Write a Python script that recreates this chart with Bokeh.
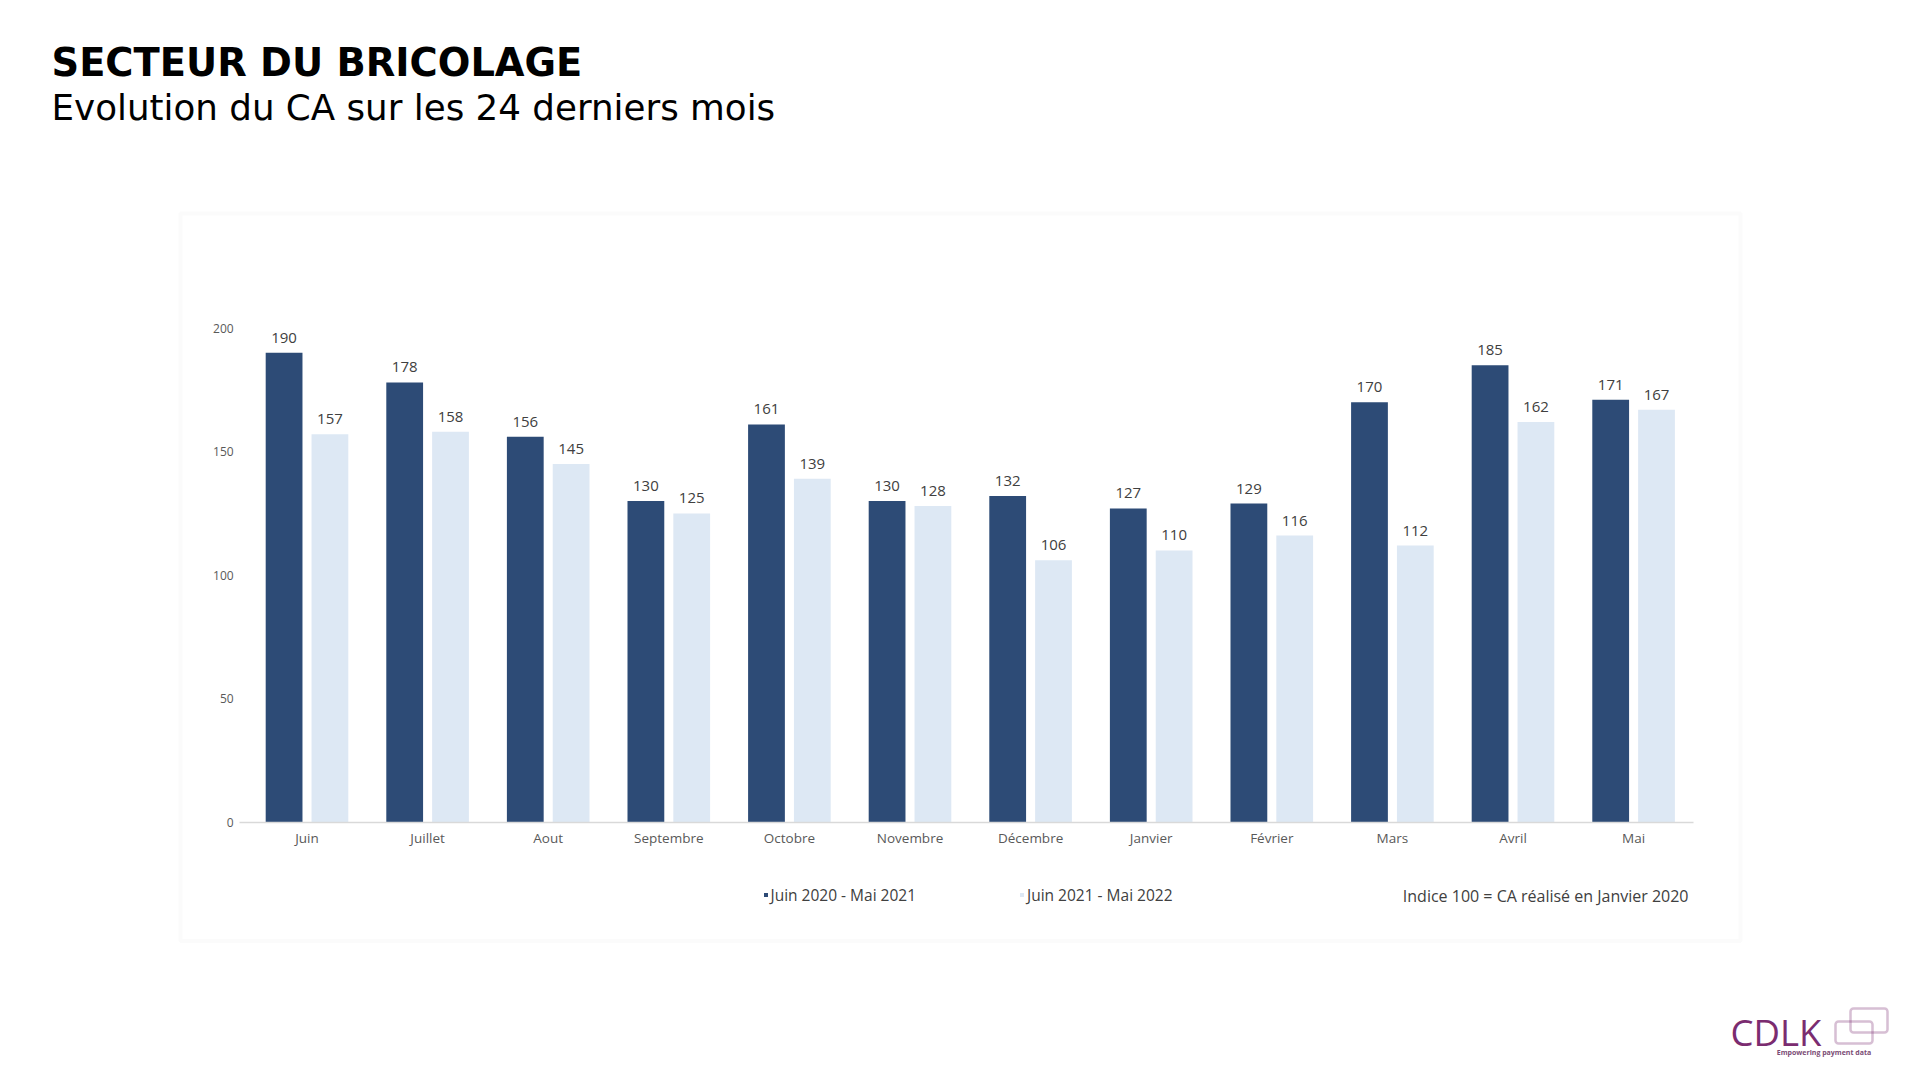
import numpy as np
from bokeh.plotting import figure
from bokeh.models import (ColumnDataSource, Range1d, Label, BoxAnnotation,
                          Legend, LegendItem, FixedTicker)
from bokeh.core.properties import value
from bokeh.embed import file_html
from bokeh.resources import INLINE

months = ["Juin", "Juillet", "Aout", "Septembre", "Octobre", "Novembre",
          "Décembre", "Janvier", "Février", "Mars", "Avril", "Mai"]
serie_2020_2021 = [190, 178, 156, 130, 161, 130, 132, 127, 129, 170, 185, 171]
serie_2021_2022 = [157, 158, 145, 125, 139, 128, 106, 110, 116, 112, 162, 167]
label_2020_2021 = "Juin 2020 - Mai 2021"
label_2021_2022 = "Juin 2021 - Mai 2022"
y_ticks = [0, 50, 100, 150, 200]

DARK = "#2D4B76"
LIGHT = "#DDE8F4"
TXT = "#404040"
FONT = "Open Sans"
TFONT = "DejaVu Sans"

W, H = 1900, 1060
# geometry of the bar area inside the canvas (pixels)
PX_PER_CAT = 120.6
BAR_LEFT = 246.2
ZERO_Y, PX_PER_UNIT = 821.7, 2.4705
n = len(months)
BAR_RIGHT = BAR_LEFT + n * PX_PER_CAT

centers = np.arange(n) + 0.5
OFF, BW = 0.19, 0.305
src = ColumnDataSource(dict(
    xa=centers - OFF, xb=centers + OFF, a=serie_2020_2021, b=serie_2021_2022,
    a_txt=[str(v) for v in serie_2020_2021], b_txt=[str(v) for v in serie_2021_2022],
))

x_range = Range1d(-BAR_LEFT / PX_PER_CAT, n + (W - BAR_RIGHT) / PX_PER_CAT)
y_range = Range1d(-(H - ZERO_Y) / PX_PER_UNIT, ZERO_Y / PX_PER_UNIT)

p = figure(width=W, height=H, x_range=x_range, y_range=y_range,
           output_backend="svg", toolbar_location=None)
p.min_border = 0
p.outline_line_color = None
p.background_fill_color = "white"
p.border_fill_color = "white"
p.xgrid.visible = False
p.ygrid.visible = False

ra = p.vbar(x="xa", top="a", width=BW, source=src, fill_color=DARK, line_color=None)
rb = p.vbar(x="xb", top="b", width=BW, source=src, fill_color=LIGHT, line_color=None)

for xc, yc, tc in [("xa", "a", "a_txt"), ("xb", "b", "b_txt")]:
    p.text(x=xc, y=yc, text=tc, source=src, text_align="center", text_baseline="bottom",
           y_offset=-10, text_font=value(FONT), text_font_size="15px", text_color=TXT)

# axes at fixed positions
p.yaxis.fixed_location = 0
p.yaxis.bounds = (0, 200)
p.yaxis.ticker = FixedTicker(ticks=y_ticks)
p.yaxis.axis_line_color = None
p.yaxis.major_tick_line_color = None
p.yaxis.minor_tick_line_color = None
p.yaxis.major_tick_out = 0
p.yaxis.major_tick_in = 0
p.yaxis.major_label_standoff = 13
p.yaxis.major_label_text_font = FONT
p.yaxis.major_label_text_font_size = "12px"
p.yaxis.major_label_text_color = "#595959"

p.xaxis.fixed_location = 0
p.xaxis.bounds = (-0.06, n)
p.xaxis.ticker = FixedTicker(ticks=list(centers))
p.xaxis.major_label_overrides = {float(c): m for c, m in zip(centers, months)}
p.xaxis.axis_line_color = "#D9D9D9"
p.xaxis.axis_line_width = 1.5
p.xaxis.major_tick_line_color = None
p.xaxis.minor_tick_line_color = None
p.xaxis.major_tick_out = 0
p.xaxis.major_tick_in = 0
p.xaxis.major_label_standoff = 7
p.xaxis.major_label_text_font = FONT
p.xaxis.major_label_text_font_size = "13.5px"
p.xaxis.major_label_text_color = "#595959"

# page position (from top-left) -> screen coords (origin at bottom-left of the canvas)
def sx(X):
    return X

def sy(Y):
    return H - Y

# outer box of the chart
p.add_layout(BoxAnnotation(left=sx(180), right=sx(1740), top=sy(213), bottom=sy(940.5),
                           left_units="screen", right_units="screen",
                           top_units="screen", bottom_units="screen",
                           fill_color=None, line_color="#F1F1F1", line_width=4,
                           level="underlay"))

# titles
p.add_layout(Label(x=sx(51), y=sy(61.6), x_units="screen", y_units="screen",
                   text="SECTEUR DU BRICOLAGE", text_font=TFONT, text_font_style="bold",
                   text_font_size="38.4px", text_color="#000000", text_baseline="alphabetic"))
p.add_layout(Label(x=sx(51), y=sy(107), x_units="screen", y_units="screen",
                   text="Evolution du CA sur les 24 derniers mois", text_font=TFONT,
                   text_font_size="35.7px", text_color="#000000", text_baseline="alphabetic"))

# legends
for r, lab, X in [(ra, label_2020_2021, 762.5), (rb, label_2021_2022, 1019)]:
    lg = Legend(items=[LegendItem(label=lab, renderers=[r])], location=(sx(X), sy(905.5)),
                orientation="horizontal", padding=0, margin=0, border_line_color=None,
                background_fill_alpha=0, glyph_width=5, glyph_height=5, label_standoff=3,
                label_height=22, label_text_font=FONT, label_text_font_size="15.5px",
                label_text_color=TXT)
    p.add_layout(lg, "center")

p.add_layout(Label(x=sx(1688), y=sy(895), x_units="screen", y_units="screen",
                   text="Indice 100 = CA réalisé en Janvier 2020", text_font=FONT,
                   text_font_size="16px", text_color=TXT, text_align="right",
                   text_baseline="middle"))

# logo
PURPLE = "#7B2C70"
p.add_layout(Label(x=sx(1730), y=sy(1031.5), x_units="screen", y_units="screen",
                   text="CDLK", text_font=FONT, text_font_size="36.5px",
                   text_color=PURPLE, text_baseline="alphabetic"))
for (l, r_, t, b) in [(1850, 1887, 1008, 1032), (1835, 1872, 1021, 1043)]:
    p.add_layout(BoxAnnotation(left=sx(l), right=sx(r_), top=sy(t), bottom=sy(b),
                               left_units="screen", right_units="screen",
                               top_units="screen", bottom_units="screen",
                               fill_color=None, line_color=PURPLE, line_width=2.5,
                               border_radius=3))
p.add_layout(Label(x=sx(1823.5), y=sy(1051.5), x_units="screen", y_units="screen",
                   text="Empowering payment data", text_font=FONT, text_font_style="bold",
                   text_font_size="7px", text_color="#7B4C75", text_align="center",
                   text_baseline="middle"))

open("out.html", "w").write(file_html(p, INLINE))
